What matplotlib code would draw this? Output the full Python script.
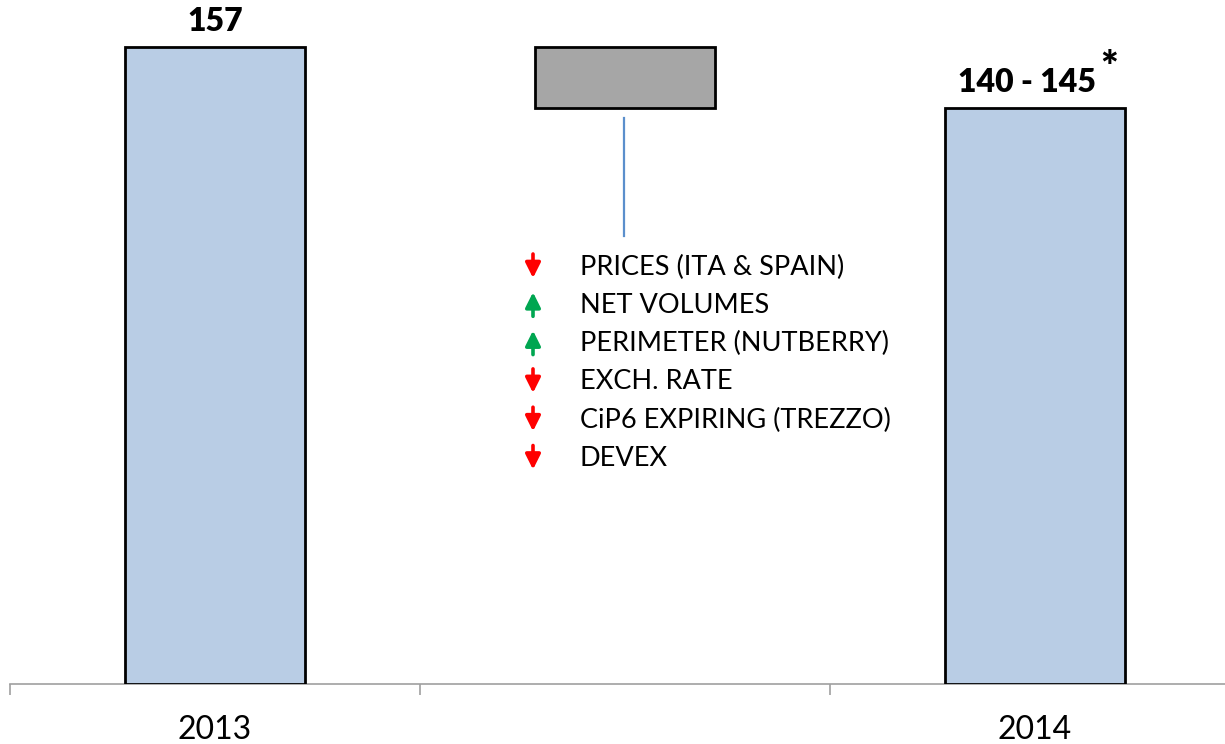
import matplotlib.pyplot as plt
import numpy as np

plt.rcParams["font.family"] = ["Lato", "DejaVu Sans"]

# data
categories = ["2013", "", "2014"]
value_2013 = 157
value_2014 = 142
bar_labels = ["157", "140 - 145"]
drivers = [
    "PRICES (ITA & SPAIN)",
    "NET VOLUMES",
    "PERIMETER (NUTBERRY)",
    "EXCH. RATE",
    "CiP6 EXPIRING (TREZZO)",
    "DEVEX",
]
directions = ["down", "up", "up", "down", "down", "down"]

BAR_BLUE = "#b9cde5"
BAR_GREY = "#a6a6a6"
W, H = 1225, 744

fig = plt.figure(figsize=(W / 100, H / 100), dpi=100)
ax = fig.add_axes([10 / W, 60 / H, 1230 / W, 684 / H])

x = np.arange(len(categories))
delta = value_2013 - value_2014
ax.bar(x[0], value_2013, width=0.44, color=BAR_BLUE, edgecolor="black", linewidth=2, zorder=3)
ax.bar(x[1], delta, bottom=value_2014, width=0.44, color=BAR_GREY, edgecolor="black", linewidth=2, zorder=3)
ax.bar(x[2], value_2014, width=0.44, color=BAR_BLUE, edgecolor="black", linewidth=2, zorder=3)

ax.set_xlim(-0.5, 2.5)
ax.set_ylim(0, value_2013 * 684 / 637)

for s in ["top", "left", "right"]:
    ax.spines[s].set_visible(False)
ax.spines["bottom"].set_color("#a0a0a0")
ax.spines["bottom"].set_linewidth(1.2)
ax.set_yticks([])
ax.set_xticks([-0.5, 0.5, 1.5, 2.5])
ax.set_xticklabels([])
ax.tick_params(axis="x", which="major", length=8, width=1.2, color="#a0a0a0")
ax.set_xticks(x, minor=True)
ax.set_xticklabels(categories, minor=True, fontsize=23)
ax.tick_params(axis="x", which="minor", length=0, pad=22)

# value labels
ax.annotate(bar_labels[0], (x[0], value_2013), xytext=(0, 8), textcoords="offset points",
            ha="center", va="bottom", fontsize=23, fontweight="heavy")
ax.annotate(bar_labels[1], (x[2] - 0.02, value_2014), xytext=(0, 8), textcoords="offset points",
            ha="center", va="bottom", fontsize=23, fontweight="heavy")
ax.annotate("*", (x[2] + 0.18, value_2014), xytext=(0, 14), textcoords="offset points",
            ha="center", va="bottom", fontsize=30, fontweight="heavy")

# connector line from grey bar to drivers list
fig.add_artist(plt.Line2D([624 / W, 624 / W], [1 - 118 / H, 1 - 236 / H],
                          color="#5b8fcc", linewidth=1.6))

# drivers list
for i, (txt, d) in enumerate(zip(drivers, directions)):
    yc = 267 + i * 38.3
    fig.text(580 / W, 1 - yc / H, txt, fontsize=19.5, va="center", ha="left")
    if d == "down":
        start, end, col = (533, yc - 13), (533, yc + 11), "#ff0000"
    else:
        start, end, col = (533, yc + 11), (533, yc - 13), "#00a651"
    ax.annotate("", xy=(end[0], H - end[1]), xytext=(start[0], H - start[1]),
                xycoords="figure pixels", textcoords="figure pixels",
                arrowprops=dict(arrowstyle="-|>,head_length=0.9,head_width=0.45",
                                color=col, linewidth=2.6, shrinkA=0, shrinkB=0))

fig.savefig("out.png", dpi=100)
